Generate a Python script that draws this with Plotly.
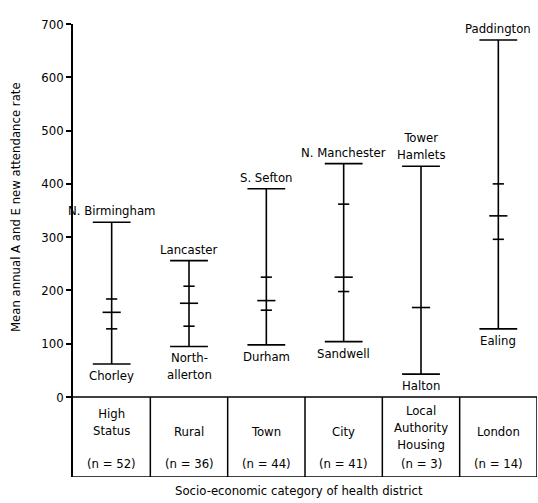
import plotly.graph_objects as go

categories = ["High Status", "Rural", "Town", "City", "Local Authority Housing", "London"]
cell_labels = ["High<br>Status", "Rural", "Town", "City", "Local<br>Authority<br>Housing", "London"]
n_values = [52, 36, 44, 41, 3, 14]
max_vals = [328, 256, 391, 438, 433, 670]
min_vals = [62, 95, 98, 104, 43, 128]
upper_q = [184, 208, 225, 362, None, 400]
median_vals = [159, 176, 181, 225, 168, 340]
lower_q = [128, 133, 163, 198, None, 296]
max_names = ["N. Birmingham", "Lancaster", "S. Sefton", "N. Manchester", "Tower<br>Hamlets", "Paddington"]
min_names = ["Chorley", "North-<br>allerton", "Durham", "Sandwell", "Halton", "Ealing"]
y_ticks = [0, 100, 200, 300, 400, 500, 600, 700]

FONT = "DejaVu Sans Condensed"
INK = "#000000"
FS = 13

def f(size=FS):
    return dict(family=FONT, size=size, color=INK)

xs = [i + 0.5 for i in range(len(categories))]
fig = go.Figure()

# vertical range lines
for x, lo, hi in zip(xs, min_vals, max_vals):
    fig.add_trace(go.Scatter(x=[x, x], y=[lo, hi], mode="lines",
                             line=dict(color=INK, width=1.6),
                             hoverinfo="skip", showlegend=False, cliponaxis=False))

def ticks(vals, size):
    px = [x for x, v in zip(xs, vals) if v is not None]
    py = [v for v in vals if v is not None]
    fig.add_trace(go.Scatter(x=px, y=py, mode="markers",
                             marker=dict(symbol="line-ew", size=size,
                                         line=dict(color=INK, width=1.6)),
                             showlegend=False, cliponaxis=False))

ticks(max_vals, 27)
ticks(min_vals, 27)
ticks(median_vals, 13)
ticks(upper_q, 8)
ticks(lower_q, 8)

# end labels
for x, hi, name in zip(xs, max_vals, max_names):
    fig.add_annotation(x=x, y=hi, text=name, showarrow=False, yanchor="bottom",
                       yshift=2, font=f())
for x, lo, name in zip(xs, min_vals, min_names):
    fig.add_annotation(x=x, y=lo, text=name, showarrow=False, yanchor="top",
                       yshift=-2, font=f())

# table below axis
line = dict(color=INK, width=1.5)
fig.add_shape(type="line", x0=0, x1=6, y0=0, y1=0, xref="x", yref="y", line=line)
fig.add_shape(type="line", x0=0, x1=6, y0=-150, y1=-150, xref="x", yref="y", line=line)
for b in range(1, 7):
    fig.add_shape(type="line", x0=b, x1=b, y0=-150, y1=0, xref="x", yref="y", line=line)

name_center = {1: -64, 2: -47, 3: -58}
for x, lab, n in zip(xs, cell_labels, n_values):
    nl = lab.count("<br>") + 1
    fig.add_annotation(x=x, y=name_center[nl], text=lab, showarrow=False, font=f())
    fig.add_annotation(x=x, y=-124, text=f"(n = {n})", showarrow=False, font=f())

fig.add_annotation(xref="paper", yref="paper", x=-0.125, y=0.596, xanchor="center",
                   yanchor="middle", text="Mean annual A and E new attendance rate",
                   textangle=-90, showarrow=False, font=f())
fig.add_annotation(xref="paper", yref="paper", x=0.487, y=-0.029, xanchor="center",
                   text="Socio-economic category of health district",
                   showarrow=False, yanchor="middle", font=f())

fig.update_xaxes(range=[0, 6], visible=False)
fig.update_yaxes(range=[-150, 700], tickvals=y_ticks, ticks="outside", ticklen=5,
                 tickwidth=1.5, tickcolor=INK, showline=True, linecolor=INK, linewidth=1.6,
                 showgrid=False, zeroline=False, tickfont=f())
fig.update_layout(width=538, height=503, margin=dict(l=73, r=1, t=24, b=26),
                  plot_bgcolor="white", paper_bgcolor="white",
                  font=dict(family=FONT, color=INK))
fig.write_html("out.html", config={"displayModeBar": False},
               post_script="document.body.style.margin='0';")
